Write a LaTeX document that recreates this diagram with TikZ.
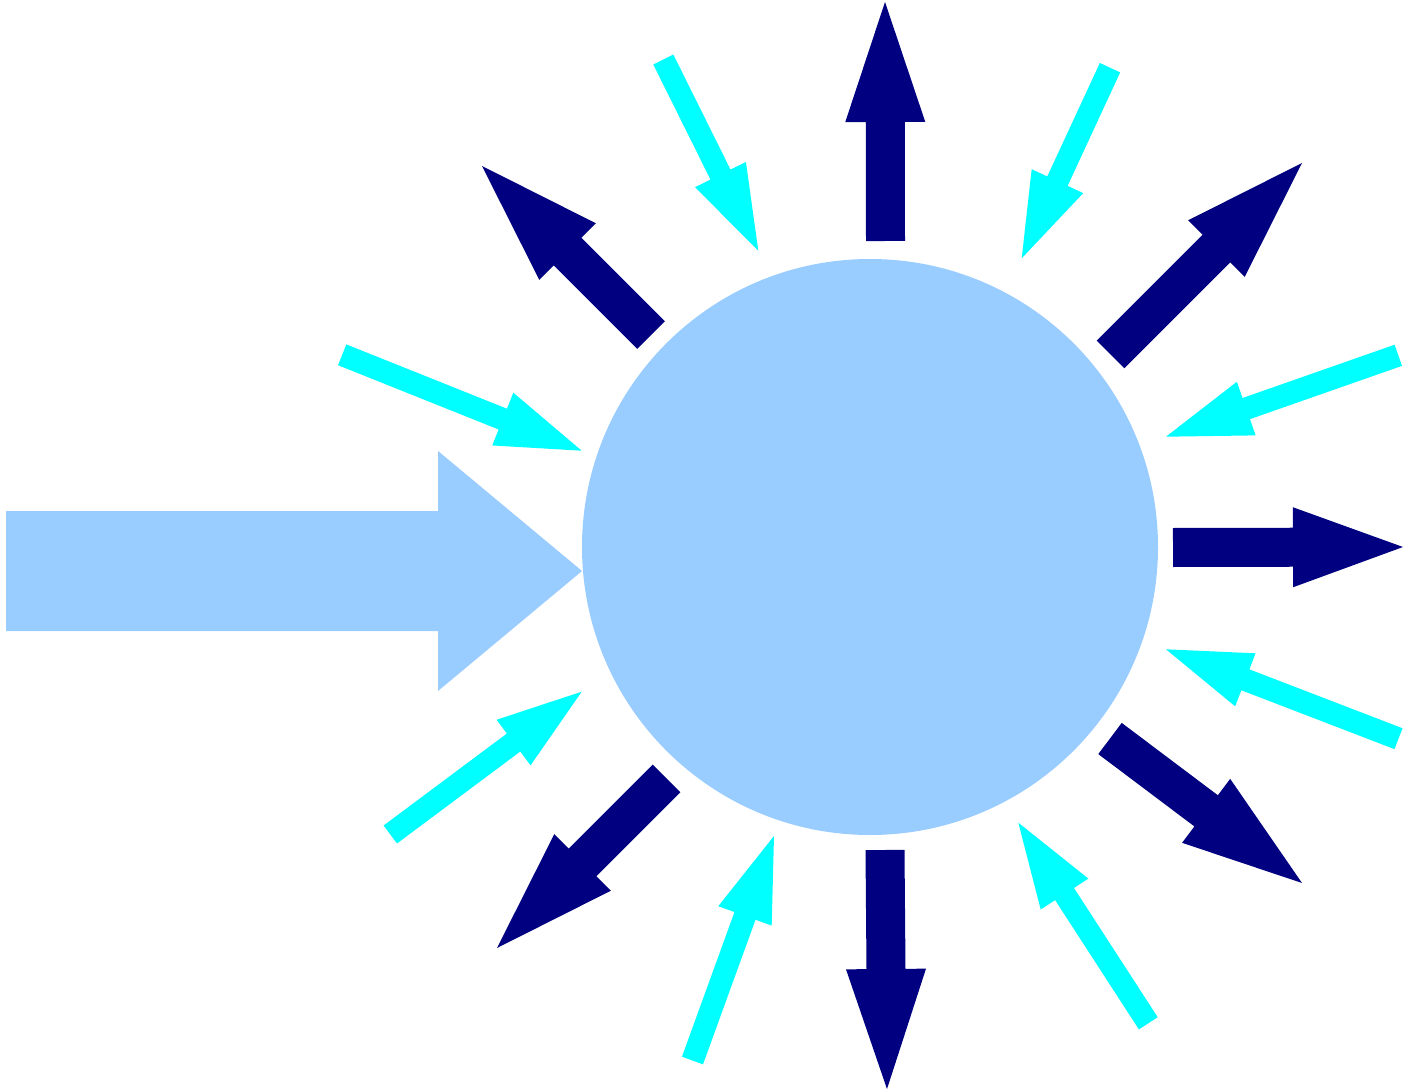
\documentclass[tikz,border=0pt]{standalone}
\usepackage{tikz}
\usetikzlibrary{calc}
\definecolor{HubBlue}{HTML}{99CCFF}
\definecolor{OutNavy}{HTML}{000080}
\definecolor{InCyan}{HTML}{00FFFF}
\tikzset{
  hub/.style={circle, fill=HubBlue, draw=none, inner sep=0pt, minimum size=576pt},
  feed/.style={fill=HubBlue},
  outflow/.style={fill=OutNavy},
  inflow/.style={fill=InCyan}
}
% block arrow: style, tail, tip, half shaft, half head, head length
\newcommand\blockarrow[6]{%
  \coordinate (ba-tail) at (#2);
  \coordinate (ba-tip) at (#3);
  \pgfpointdiff{\pgfpointanchor{ba-tail}{center}}{\pgfpointanchor{ba-tip}{center}}%
  \pgfgetlastxy{\badx}{\bady}%
  \pgfmathsetmacro\baang{atan2(\bady,\badx)}%
  \pgfmathsetmacro\balen{veclen(\badx,\bady)}%
  \pgfmathsetmacro\babase{\balen-#6}%
  \fill[#1, shift={(ba-tail)}, rotate=\baang]
    (0pt,#4pt) -- (\babase pt,#4pt) -- (\babase pt,#5pt) -- (\balen pt,0pt)
    -- (\babase pt,-#5pt) -- (\babase pt,-#4pt) -- (0pt,-#4pt) -- cycle;
}

\begin{document}
\begin{tikzpicture}[x=1pt, y=-1pt]
  \useasboundingbox (0,0) rectangle (1403,1091);

  \node[hub] (hub) at (870,547) {};

  % incoming feed
  \blockarrow{feed}{6,571}{582,571}{60}{120}{144}

  % outgoing
  \blockarrow{outflow}{885.5,241}{885,2}{19.5}{40}{120}
  \blockarrow{outflow}{1173,547.5}{1403,547}{19.5}{40}{110}
  \blockarrow{outflow}{885,850}{887,1089}{19.5}{40}{120}
  \blockarrow{outflow}{651,335}{482,166}{19.5}{40}{121}
  \blockarrow{outflow}{1110.5,354.5}{1302,163}{19.5}{40}{121}
  \blockarrow{outflow}{666.5,778.5}{497,948}{19.5}{40}{121}
  \blockarrow{outflow}{1110,738.5}{1302,883}{19.5}{40}{120}

  % incoming
  \blockarrow{inflow}{663.3,59.5}{758.3,250.7}{11.2}{28.4}{85}
  \blockarrow{inflow}{1110,67.7}{1021.7,258.3}{11.2}{28.4}{85}
  \blockarrow{inflow}{342.2,354.8}{581.7,450.7}{11.2}{28.4}{85}
  \blockarrow{inflow}{1398.3,355.3}{1166,436.7}{11.2}{28.4}{85}
  \blockarrow{inflow}{1398.5,738.7}{1166,649.3}{11.2}{28.4}{85}
  \blockarrow{inflow}{390.3,834.5}{581.7,691.7}{11.2}{28.4}{85}
  \blockarrow{inflow}{692.5,1060.5}{774,836}{11.2}{28.4}{85}
  \blockarrow{inflow}{1148.3,1023.3}{1018.3,822.7}{11.2}{28.4}{85}
\end{tikzpicture}
\end{document}
